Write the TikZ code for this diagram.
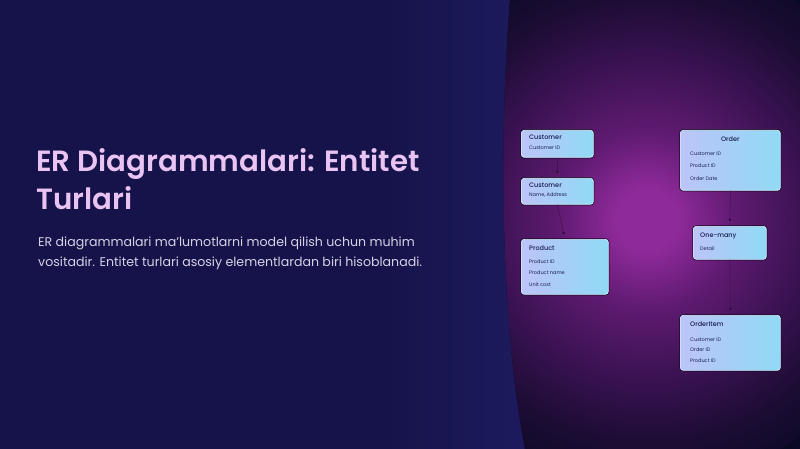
\documentclass[tikz,border=0pt]{standalone}
\usepackage{fontspec}
\setmainfont{Poppins}
\newfontfamily\headfont{Poppins SemiBold}
\newfontfamily\boxfont{Poppins Medium}
\usetikzlibrary{positioning,arrows.meta}

\definecolor{navy}{HTML}{16134A}
\definecolor{navyedge}{HTML}{1D1B5E}
\definecolor{panel}{HTML}{0A0924}
\definecolor{glow}{HTML}{8E2A9A}
\definecolor{glowmid}{HTML}{5E1A70}
\definecolor{glowlow}{HTML}{3A1252}
\definecolor{glowdark}{HTML}{1C0C34}
\definecolor{headpink}{HTML}{E9C3F2}
\definecolor{bodygrey}{HTML}{D6D2E6}
\definecolor{boxblue}{HTML}{90DAF6}
\definecolor{boxlilac}{HTML}{BCC4F8}
\definecolor{boxink}{HTML}{18204E}
\definecolor{linkc}{HTML}{2A0C3C}

\pgfdeclareradialshading{glowshade}{\pgfpoint{0bp}{0bp}}{color(0bp)=(glow); color(3bp)=(glow); color(8.5bp)=(glowmid); color(15bp)=(glowlow); color(21bp)=(glowdark); color(27bp)=(panel); color(50bp)=(panel)}

\begin{document}
\begin{tikzpicture}[x=1pt,y=-1pt,
	erbox/.style={rounded corners=3pt, left color=boxlilac, right color=boxblue, draw=white!60!boxblue, line width=0.7pt, preaction={draw=linkc!70!black, line width=2.2pt}, inner sep=0pt, anchor=north west},
	etitle/.style={font=\boxfont\fontsize{6.5}{7}\selectfont, text=boxink, inner sep=0pt},
	eitem/.style={font=\fontsize{5}{5}\selectfont, text=boxink, inner sep=0pt},
	link/.style={draw=linkc!55!glowmid, line width=0.5pt, -{Circle[length=2.4pt, color=linkc]}, shorten >=5pt}]
	\useasboundingbox (0,0) rectangle (800,449);
	\fill[navy] (0,0) rectangle (800,449);
	\shade[left color=navy, right color=navyedge] (380,0) rectangle (530,449);
	\fill[panel] (510,0) .. controls (498,150) and (502,330) .. (525,449) -- (800,449) -- (800,0) -- cycle;
	\begin{scope}
		\clip (510,0) .. controls (498,150) and (502,330) .. (525,449) -- (800,449) -- (800,0) -- cycle;
		\shade[shading=glowshade] (647,220) circle (265);
	\end{scope}

	\node[anchor=north west, inner sep=0pt, align=left, text=headpink, font=\headfont\fontsize{29.3}{38}\selectfont] (head) at (36,148) {ER Diagrammalari: Entitet\\Turlari};
	\node[anchor=north west, inner sep=0pt, align=left, text=bodygrey, font=\fontsize{12.6}{20}\selectfont] (body) at (38,237) {ER diagrammalari ma'lumotlarni model qilish uchun muhim\\vositadir. Entitet turlari asosiy elementlardan biri hisoblanadi.};

	\node[erbox, minimum width=72pt, minimum height=27pt] (cust) at (521,130) {};
	\node[etitle, below right=5pt and 8pt of cust.north west] (custT) {Customer};
	\node[eitem, below right=16pt and 8pt of cust.north west] {Customer ID};

	\node[erbox, minimum width=72pt, minimum height=26pt] (custb) at (521,178) {};
	\node[etitle, below right=5pt and 8pt of custb.north west] (custbT) {Customer};
	\node[eitem, below right=15pt and 8pt of custb.north west] {Name, Address};

	\node[erbox, minimum width=87pt, minimum height=55pt] (prod) at (521,239) {};
	\node[etitle, below right=6pt and 8pt of prod.north west] (prodT) {Product};
	\node[eitem, below right=21pt and 8pt of prod.north west] {Product ID};
	\node[eitem, below right=32pt and 8pt of prod.north west] {Product name};
	\node[eitem, below right=43pt and 8pt of prod.north west] {Unit cost};

	\node[erbox, minimum width=100pt, minimum height=60pt] (order) at (680,130) {};
	\node[etitle, below=6pt of order.north] (orderT) {Order};
	\node[eitem, below right=22pt and 10pt of order.north west] {Customer ID};
	\node[eitem, below right=34pt and 10pt of order.north west] {Product ID};
	\node[eitem, below right=47pt and 10pt of order.north west] {Order Date};

	\node[erbox, minimum width=73pt, minimum height=33pt] (many) at (693,226) {};
	\node[etitle, below right=7pt and 7pt of many.north west] (manyT) {One-many};
	\node[eitem, below right=20pt and 7pt of many.north west] {Detail};

	\node[erbox, minimum width=100pt, minimum height=55pt] (item) at (680,315) {};
	\node[etitle, below right=6pt and 10pt of item.north west] (itemT) {OrderItem};
	\node[eitem, below right=23pt and 10pt of item.north west] {Customer ID};
	\node[eitem, below right=33pt and 10pt of item.north west] {Order ID};
	\node[eitem, below right=44pt and 10pt of item.north west] {Product ID};

	\draw[link] (cust.south) -- (custb.north);
	\draw[link] (custb.south) -- (prod.north);
	\draw[link] (order.south) -- (many.north);
	\draw[link] (many.south) -- (item.north);
\end{tikzpicture}
\end{document}
